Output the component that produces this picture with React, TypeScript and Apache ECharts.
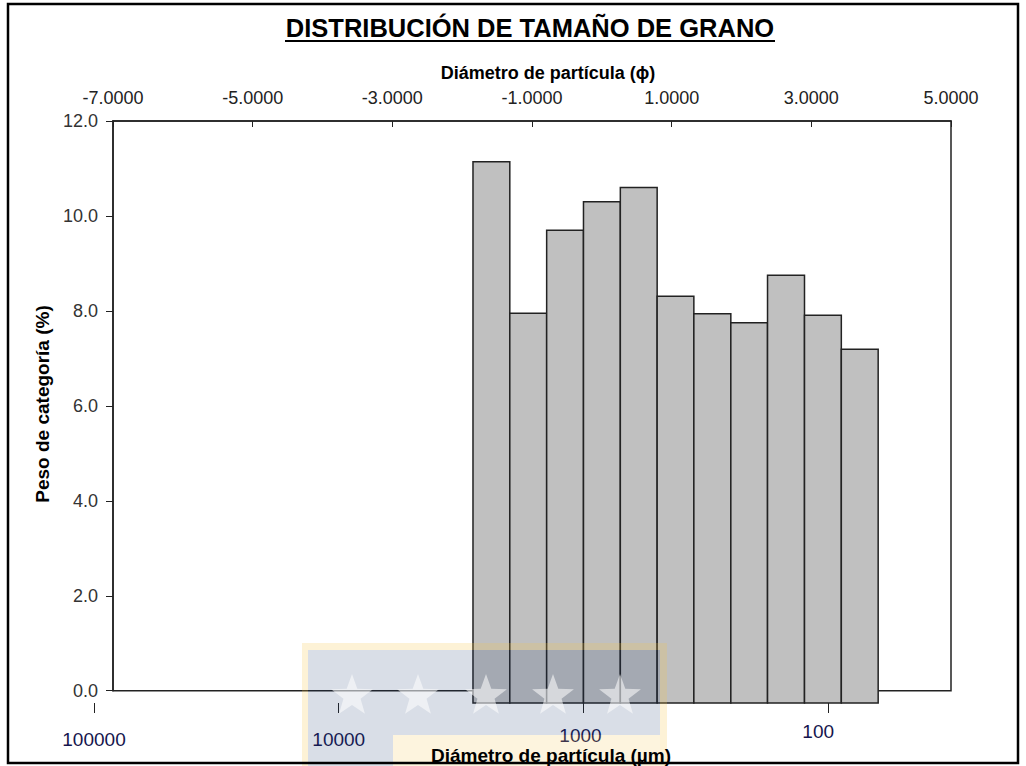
import React, { useEffect, useRef } from 'react';
import * as echarts from 'echarts';

// ---- data ----
const phiTicks = [-7, -5, -3, -1, 1, 3, 5];
const umTicks = [100000, 10000, 1000, 100];
const binEdgesUm = [2828, 2000, 1414, 1000, 707, 500, 354, 250, 177, 125, 88.4, 62.5];
const weights = [11.4, 8.21, 9.96, 10.56, 10.86, 8.57, 8.2, 8.01, 9.01, 8.17, 7.45];

const FONT = "'Liberation Sans', Arial, sans-serif";

function starPoints(cx: number, cy: number, R: number, r: number) {
  const pts: number[][] = [];
  for (let i = 0; i < 10; i++) {
    const a = -Math.PI / 2 + (i * Math.PI) / 5;
    const rad = i % 2 === 0 ? R : r;
    pts.push([cx + rad * Math.cos(a), cy + rad * Math.sin(a)]);
  }
  return pts;
}

export default function App() {
  const ref = useRef<HTMLDivElement>(null);
  useEffect(() => {
    if (!ref.current) return;
    const chart = echarts.init(ref.current, undefined, { renderer: 'svg' });
    const barData = weights.map((w, i) => [binEdgesUm[i], binEdgesUm[i + 1], w]);
    const starCenters = [352, 418, 486, 553, 620];
    const wm: any[] = [
      { type: 'rect', z: 20, shape: { x: 302, y: 643, width: 365, height: 7 }, style: { fill: 'rgba(245,195,70,0.22)' } },
      { type: 'rect', z: 20, shape: { x: 302, y: 650, width: 6, height: 116 }, style: { fill: 'rgba(245,195,70,0.22)' } },
      { type: 'rect', z: 20, shape: { x: 660, y: 650, width: 7, height: 116 }, style: { fill: 'rgba(245,195,70,0.22)' } },
      { type: 'rect', z: 20, shape: { x: 308, y: 650, width: 352, height: 85 }, style: { fill: 'rgba(30,60,110,0.17)' } },
      { type: 'rect', z: 20, shape: { x: 308, y: 735, width: 85, height: 31 }, style: { fill: 'rgba(30,60,110,0.17)' } },
      { type: 'rect', z: 20, shape: { x: 393, y: 735, width: 267, height: 31 }, style: { fill: 'rgba(245,195,70,0.18)' } },
      ...starCenters.map((cx) => ({
        type: 'polygon', z: 21,
        shape: { points: starPoints(cx, 696, 22, 9) },
        style: { fill: 'rgba(255,255,255,0.55)' },
      })),
    ];
    chart.setOption({
      animation: false,
      backgroundColor: '#fff',
      grid: [
        { left: 113, right: 75, top: 121, bottom: 75.3, show: true, borderColor: '#222', borderWidth: 1.5, backgroundColor: 'transparent' },
        { left: 94, right: 75, top: 133.3, bottom: 63, show: false },
      ],
      xAxis: [
        {
          gridIndex: 0, type: 'value', position: 'top', min: -7, max: 5,
          axisLine: { show: true, onZero: false, lineStyle: { color: '#222', width: 1.5 } },
          axisTick: { show: true, inside: true, length: 6, customValues: phiTicks, lineStyle: { color: '#222' } },
          axisLabel: { customValues: phiTicks, formatter: (v: number) => v.toFixed(4), fontSize: 18, color: '#222', fontFamily: FONT, margin: 14 },
          splitLine: { show: false },
        },
        {
          gridIndex: 1, type: 'log', position: 'bottom', inverse: true, min: 31.5, max: 100000, logBase: 10,
          axisLine: { show: false, onZero: false },
          axisTick: { show: true, length: 10, customValues: umTicks, lineStyle: { color: '#222' } },
          axisLabel: {
            customValues: umTicks,
            margin: 12,
            formatter: (v: number) => {
              const r = Math.round(v);
              if (r === 100) return '{d|100}';
              if (r === 1000) return '{c|1000}';
              return '{a|' + r + '}';
            },
            rich: {
              a: { fontSize: 19, color: '#15154d', fontFamily: FONT, padding: [15, 0, 0, 0] },
              c: { fontSize: 19, color: '#15154d', fontFamily: FONT, padding: [11, 6, 0, 0] },
              d: { fontSize: 19, color: '#15154d', fontFamily: FONT, padding: [7, 20, 0, 0] },
            },
          },
          splitLine: { show: false },
        },
      ],
      yAxis: [
        {
          gridIndex: 0, type: 'value', min: 0, max: 12, interval: 2,
          axisLine: { show: true, onZero: false, lineStyle: { color: '#222', width: 1.5 } },
          axisTick: { show: true, length: 7, lineStyle: { color: '#222' } },
          axisLabel: { formatter: (v: number) => v.toFixed(1), fontSize: 18, color: '#333', fontFamily: FONT, margin: 15 },
          splitLine: { show: false },
        },
        { gridIndex: 1, type: 'value', min: 0, max: 12, show: false, axisLine: { onZero: false } },
      ],
      series: [
        {
          type: 'custom',
          xAxisIndex: 1,
          yAxisIndex: 1,
          data: barData,
          encode: { x: [0, 1], y: 2 },
          renderItem: (params: any, api: any) => {
            const lo = api.value(0);
            const hi = api.value(1);
            const v = api.value(2);
            const p1 = api.coord([lo, v]);
            const p2 = api.coord([hi, 0]);
            return {
              type: 'rect',
              shape: { x: Math.min(p1[0], p2[0]), y: p1[1], width: Math.abs(p2[0] - p1[0]), height: p2[1] - p1[1] },
              style: { fill: '#c0c0c0', stroke: '#222', lineWidth: 1.5 },
            };
          },
        },
      ],
      graphic: [
        { type: 'text', z: 30, x: 530, y: 28, style: { text: 'DISTRIBUCIÓN DE TAMAÑO DE GRANO', fontSize: 25.5, fontWeight: 'bold', fontFamily: FONT, fill: '#000', align: 'center', verticalAlign: 'middle' } },
        { type: 'line', z: 30, shape: { x1: 285, y1: 41, x2: 775, y2: 41 }, style: { stroke: '#000', lineWidth: 2 } },
        { type: 'text', z: 30, x: 548, y: 73, style: { text: 'Diámetro de partícula (ϕ)', fontSize: 18, fontWeight: 'bold', fontFamily: FONT, fill: '#000', align: 'center', verticalAlign: 'middle' } },
        { type: 'text', z: 30, x: 42, y: 404, rotation: Math.PI / 2, style: { text: 'Peso de categoría (%)', fontSize: 19, fontWeight: 'bold', fontFamily: FONT, fill: '#000', align: 'center', verticalAlign: 'middle' } },
        ...wm,
        { type: 'text', z: 30, x: 551, y: 755, style: { text: 'Diámetro de partícula (µm)', fontSize: 19, fontWeight: 'bold', fontFamily: FONT, fill: '#000', align: 'center', verticalAlign: 'middle' } },
        { type: 'rect', z: 40, shape: { x: 8, y: 4, width: 1010, height: 759 }, style: { fill: 'none', stroke: '#000', lineWidth: 2.5 } },
      ],
    });
    return () => chart.dispose();
  }, []);
  return <div ref={ref} style={{ position: 'fixed', left: 0, top: 0, width: 1026, height: 766, background: '#fff' }} />;
}
